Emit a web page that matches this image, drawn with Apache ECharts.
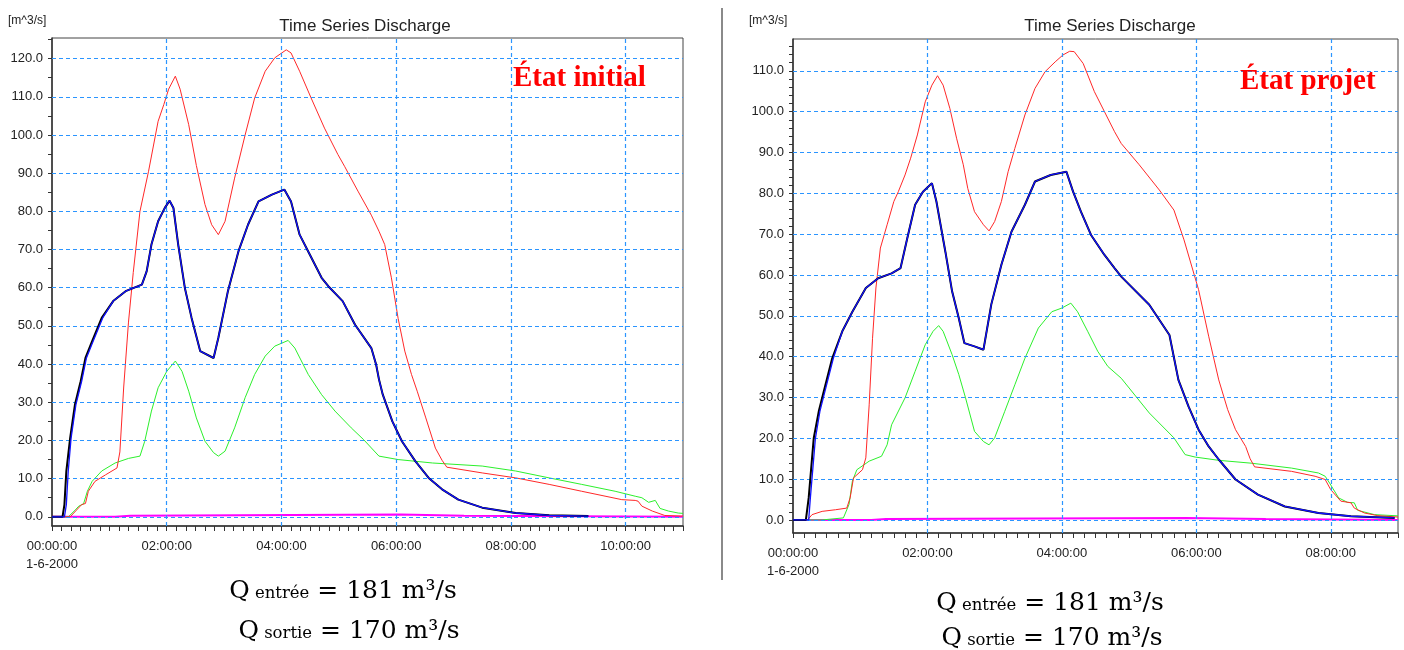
<!DOCTYPE html>
<html>
<head>
<meta charset="utf-8">
<script src="https://cdn.jsdelivr.net/npm/echarts@6/dist/echarts.min.js"></script>
<style>
html,body{margin:0;padding:0;background:#fff;}
#c{width:1404px;height:650px;}
</style>
</head>
<body>
<div id="c"></div>
<script>
// ---------- DATA (time in minutes from 00:00:00, value in m^3/s) ----------
// Left chart: "État initial"
const redL = [[0,0],[19,0],[31,3.2],[35,3.5],[38,6.7],[45,9.3],[56,11],[68,12.8],[71,17],[75,34],[80,51],[85,64],[92,80],[101,90.5],[111,103.6],[117,108],[122,112],[129,115.4],[134,112],[143,102.7],[151,92],[160,81.8],[167,76.5],[174,73.9],[181,77.4],[191,88.7],[202,100],[212,109.7],[223,116.7],[233,120.2],[245,122.3],[250,121.5],[259,116.7],[271,109.7],[285,101.8],[299,94.9],[306,91.8],[320,85.3],[334,79],[342,74.8],[348,71.3],[355,62.6],[362,52],[369,43.4],[376,37.3],[382,32.9],[391,25.9],[401,18],[408,14.8],[413,13],[450,11.5],[485,10.2],[520,8.5],[554,6.7],[596,4.5],[610,4.3],[613,4.1],[617,2.8],[628,1.5],[641,0.35],[660,0.2]];
const greenL = [[0,0],[17,0],[24,1.7],[28,2.8],[33,3.4],[37,6.7],[42,9.3],[52,12],[66,14.1],[80,15.3],[92,15.9],[97,19.8],[104,27.7],[111,33.8],[120,38.1],[129,40.8],[136,38.1],[143,32.9],[151,25.9],[160,19.8],[169,16.8],[174,15.9],[181,17.2],[191,23.3],[202,31.2],[212,37.3],[223,42.1],[233,44.7],[247,46.2],[254,44.2],[268,37.3],[282,32],[296,27.7],[313,23.3],[326,20.2],[342,15.9],[362,15],[398,14.1],[450,13.3],[485,12],[520,10.2],[554,8.5],[589,6.7],[610,5.4],[617,5],[624,3.8],[631,4.3],[636,2.2],[645,1.5],[655,1.0],[660,0.9]];
const blackL = [[0,0],[11,0],[13,3.2],[15,12],[19,20.7],[24,29.4],[30,35.5],[35,41.6],[42,46],[52,52.1],[64,56.5],[77,59.1],[94,60.8],[99,64.3],[104,71.3],[111,77.4],[118,80.9],[123,82.8],[127,80.9],[132,71.3],[139,59.9],[146,52.1],[155,43.4],[169,41.6],[174,46.9],[184,59.1],[195,69.5],[205,76.5],[216,82.6],[230,84.4],[243,85.7],[250,82.6],[259,73.9],[268,69.5],[282,62.6],[289,60.4],[304,56.5],[317,50.3],[334,44.2],[339,39.9],[342,36],[346,32],[356,25],[366,19.8],[380,14.6],[394,10.2],[408,7.2],[425,4.5],[450,2.4],[485,1],[520,0.4],[561,0.2]];
const blueL = [[0,0],[13,0],[15,3.2],[17,12],[20,20.7],[25,29.4],[31,35.5],[36,41.6],[43,46],[53,52.1],[64,56.5],[77,59.1],[94,60.8],[99,64.3],[104,71.3],[111,77.4],[118,80.9],[123,82.8],[127,80.9],[132,71.3],[139,59.9],[146,52.1],[155,43.4],[169,41.6],[174,46.9],[184,59.1],[195,69.5],[205,76.5],[216,82.6],[230,84.4],[243,85.7],[250,82.6],[259,73.9],[268,69.5],[282,62.6],[289,60.4],[304,56.5],[317,50.3],[334,44.2],[339,39.9],[342,36],[346,32],[356,25],[366,19.8],[380,14.6],[394,10.2],[408,7.2],[425,4.5],[450,2.4],[485,1],[520,0.4],[561,0.2]];
const magentaL = [[0,0],[66,0],[66,0.3],[82,0.3],[82,0.6],[365,0.6],[365,0.3],[431,0.3],[431,0],[660,0]];

// Right chart: "État projet"
const redR = [[0,0],[13,0],[17,1.3],[26,2.1],[38,2.5],[48,2.9],[51,5.4],[54,10.3],[62,12.3],[65,15.2],[68,28.2],[71,44.5],[74,56.8],[78,66.6],[84,72.3],[90,78],[94,80.4],[100,84.5],[105,88.6],[111,94.3],[118,102.4],[124,106.5],[129,108.8],[134,106.5],[140,100.8],[146,93.5],[152,87],[156,81.2],[162,75.5],[170,72.3],[175,70.8],[180,73.1],[186,78],[192,85.3],[198,91],[207,99.2],[216,105.7],[225,109.8],[234,112.2],[241,113.9],[247,114.8],[251,114.7],[259,111.8],[269,104.9],[278,100],[287,95.1],[293,92.2],[309,87],[327,80.8],[340,75.9],[349,68.6],[362,56.4],[371,45],[380,34.3],[388,27],[395,22.1],[404,18],[408,15],[412,13],[445,11.9],[466,10.7],[475,9.9],[480,7.4],[489,4.6],[498,4.2],[501,2.9],[510,1.7],[522,1.05],[540,0.7]];
const greenR = [[0,0],[26,0],[26,0.3],[45,0.5],[50,3.8],[53,9.5],[57,12.3],[68,14.4],[79,15.6],[84,18.4],[88,23.3],[100,29.9],[109,36.4],[118,42.9],[125,46.2],[130,47.6],[134,46.2],[142,40.5],[148,35.6],[154,29.9],[162,21.7],[170,19.2],[175,18.4],[180,20.1],[189,26.6],[198,33.1],[207,39.6],[219,47],[231,51],[240,51.9],[248,53.1],[254,51],[263,46.2],[272,41.3],[281,37.6],[293,34.7],[318,26.2],[340,20.1],[350,16],[359,15.4],[380,14.6],[409,13.9],[445,12.7],[469,11.5],[475,10.7],[479,9],[487,5.4],[495,4.3],[501,4.2],[504,2.35],[519,1.3],[540,1.0]];
const blackR = [[0,0],[11.5,0],[14,5.4],[18.5,20],[23,26.6],[27.5,31.5],[35,39.6],[44,46.2],[53,51],[65,56.8],[76,59.2],[88,60.4],[96,61.7],[102,69],[109,77.2],[116,80.4],[124,82.5],[128,78],[136,65.7],[142,56],[148,49.4],[153,43.3],[162,42.5],[170,41.7],[177,52.8],[186,62.5],[195,70.6],[207,77.2],[216,82.9],[230,84.5],[244,85.3],[250,80.4],[257,75.5],[266,69.8],[278,64.9],[287,61.7],[293,59.6],[318,52.7],[336,45.3],[344,34.3],[353,27.8],[362,22.1],[371,18],[380,14.8],[395,9.9],[415,6.2],[439,3.3],[469,1.7],[498,0.9],[537,0.5]];
const blueR = [[0,0],[14,0],[15.5,5.4],[20,20],[24,26.6],[28.5,31.5],[36,39.6],[44,46.2],[53,51],[65,56.8],[76,59.2],[88,60.4],[96,61.7],[102,69],[109,77.2],[116,80.4],[124,82.5],[128,78],[136,65.7],[142,56],[148,49.4],[153,43.3],[162,42.5],[170,41.7],[177,52.8],[186,62.5],[195,70.6],[207,77.2],[216,82.9],[230,84.5],[244,85.3],[250,80.4],[257,75.5],[266,69.8],[278,64.9],[287,61.7],[293,59.6],[318,52.7],[336,45.3],[344,34.3],[353,27.8],[362,22.1],[371,18],[380,14.8],[395,9.9],[415,6.2],[439,3.3],[469,1.7],[498,0.9],[537,0.5]];
const magentaR = [[0,0],[70,0],[70,0.25],[83,0.25],[83,0.5],[351,0.5],[351,0.2],[422,0.2],[422,0],[540,0]];

// ---------- AXIS TICKS / LABELS ----------
const xLabelsL = [0,120,240,360,480,600];
const xLabelsR = [0,120,240,360,480];
const yLabelsL = [0,10,20,30,40,50,60,70,80,90,100,110,120];
const yLabelsR = [0,10,20,30,40,50,60,70,80,90,100,110];
const xMinorStep = 10, yMinorStepL = 5, yMinorStepR = 2;
const dateLabel = '1-6-2000';
const titleText = 'Time Series Discharge';
const unitText = '[m^3/s]';
const panelL = 'État initial', panelR = 'État projet';
const qIn = {label:'entrée', value:'181 m³/s'};
const qOut = {label:'sortie', value:'170 m³/s'};

function range(a,b,s){const r=[];for(let v=a;v<=b+1e-9;v+=s)r.push(+v.toFixed(4));return r;}
function pad(n){return (n<10?'0':'')+n;}
function fmtTime(v){
  const h=Math.floor(v/60), m=Math.round(v%60);
  const s=pad(h)+':'+pad(m)+':00';
  return v===0 ? s+'\n'+dateLabel : s;
}

const sans = 'Liberation Sans, Arial, sans-serif';
const gridBlue = '#2b95ff';

function xAxisDef(gi,max,labels){
  return {type:'value',gridIndex:gi,min:0,max:max,
    axisLine:{show:true,onZero:false,lineStyle:{color:'#333',width:1.5}},
    axisTick:{show:true,length:5,lineStyle:{color:'#333'},customValues:range(0,max,xMinorStep)},
    axisLabel:{customValues:labels,formatter:fmtTime,color:'#222',fontFamily:sans,fontSize:13,margin:11,lineHeight:18},
    splitLine:{show:false}};
}
function yAxisDef(gi,min,max,labels,step){
  return {type:'value',gridIndex:gi,min:min,max:max,
    axisLine:{show:true,onZero:false,lineStyle:{color:'#333',width:1.5}},
    axisTick:{show:true,length:4,lineStyle:{color:'#333'},customValues:range(0,Math.floor(max/step)*step,step)},
    axisLabel:{customValues:labels,formatter:v=>v.toFixed(1),color:'#222',fontFamily:sans,fontSize:13,margin:9},
    splitLine:{show:false}};
}
function gridSeries(xi,hv,vv){
  return {type:'line',xAxisIndex:xi,yAxisIndex:xi,data:[],silent:true,z:1,
    markLine:{silent:true,symbol:['none','none'],label:{show:false},animation:false,
      lineStyle:{color:gridBlue,type:[4,3],width:1.2},
      data:hv.map(v=>({yAxis:v})).concat(vv.filter(v=>v>0).map(v=>({xAxis:v})))}};
}
function line(xi,data,color,width,z){
  return {type:'line',xAxisIndex:xi,yAxisIndex:xi,data:data,showSymbol:false,symbol:'none',
    lineStyle:{color:color,width:width},z:z,silent:true};
}
function qText(x,y,q){
  return {type:'text',x:x,y:y,style:{
    text:'{b|Q}{s| '+q.label+'}{b| = '+q.value+'}',
    textAlign:'center',textVerticalAlign:'middle',fill:'#000',
    rich:{b:{fontFamily:'DejaVu Serif, serif',fontSize:25,fill:'#000',verticalAlign:'bottom'},
          s:{fontFamily:'DejaVu Serif, serif',fontSize:16.5,fill:'#000',verticalAlign:'bottom',padding:[0,0,1,0]}}}};
}

const chart = echarts.init(document.getElementById('c'),null,{renderer:'canvas'});
chart.setOption({
  animation:false,
  backgroundColor:'#fff',
  grid:[
    {left:52,top:38,width:631,height:488,show:true,borderColor:'#444',borderWidth:1,backgroundColor:'#fff'},
    {left:793,top:39,width:605,height:494,show:true,borderColor:'#444',borderWidth:1,backgroundColor:'#fff'}
  ],
  xAxis:[xAxisDef(0,660,xLabelsL),xAxisDef(1,540,xLabelsR)],
  yAxis:[yAxisDef(0,-2.4,125.4,yLabelsL,yMinorStepL),yAxisDef(1,-3.2,117.8,yLabelsR,yMinorStepR)],
  series:[
    gridSeries(0,yLabelsL,xLabelsL),
    line(0,magentaL,'#ff00ff',2,2),
    line(0,greenL,'#2cf02c',1,3),
    line(0,redL,'#ff2828',1,4),
    line(0,blackL,'#000000',2,5),
    line(0,blueL,'#1010ff',1.3,6),
    gridSeries(1,yLabelsR,xLabelsR),
    line(1,magentaR,'#ff00ff',2,2),
    line(1,greenR,'#2cf02c',1,3),
    line(1,redR,'#ff2828',1,4),
    line(1,blackR,'#000000',2,5),
    line(1,blueR,'#1010ff',1.3,6)
  ],
  graphic:[
    {type:'line',shape:{x1:722,y1:8,x2:722,y2:580},style:{stroke:'#8a8a8a',lineWidth:2}},
    {type:'text',x:8,y:21,style:{text:unitText,fontFamily:sans,fontSize:12,fill:'#222',textVerticalAlign:'middle'}},
    {type:'text',x:749,y:21,style:{text:unitText,fontFamily:sans,fontSize:12,fill:'#222',textVerticalAlign:'middle'}},
    {type:'text',x:365,y:26,style:{text:titleText,fontFamily:sans,fontSize:17,fill:'#222',textAlign:'center',textVerticalAlign:'middle'}},
    {type:'text',x:1110,y:26,style:{text:titleText,fontFamily:sans,fontSize:17,fill:'#222',textAlign:'center',textVerticalAlign:'middle'}},
    {type:'text',x:513,y:79,z:10,style:{text:panelL,fontFamily:'Liberation Serif, serif',fontWeight:'bold',fontSize:29,fill:'#ff0000',textVerticalAlign:'middle'}},
    {type:'text',x:1240,y:82,z:10,style:{text:panelR,fontFamily:'Liberation Serif, serif',fontWeight:'bold',fontSize:29,fill:'#ff0000',textVerticalAlign:'middle'}},
    qText(343,591,qIn), qText(349,631,qOut), qText(1050,603,qIn), qText(1052,638,qOut)
  ]
});
</script>
</body>
</html>
